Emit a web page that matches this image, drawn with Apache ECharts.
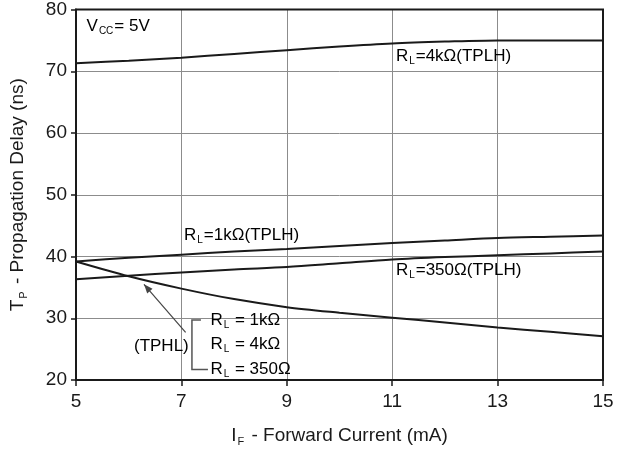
<!DOCTYPE html>
<html>
<head>
<meta charset="utf-8">
<script src="https://cdn.jsdelivr.net/npm/echarts@6/dist/echarts.min.js"></script>
<style>
  html, body { margin: 0; padding: 0; background: #fff; }
  #chart { width: 622px; height: 452px; }
</style>
</head>
<body>
<div id="chart"></div>
<script>
const forwardCurrent = [5, 6, 7, 8, 9, 10, 11, 12, 13, 14, 15]
const rl4kTplh = [71.3, 71.7, 72.2, 72.8, 73.4, 74.0, 74.5, 74.8, 75.0, 75.0, 75.0]
const rl1kTplh = [39.2, 39.8, 40.3, 40.8, 41.2, 41.7, 42.2, 42.6, 43.0, 43.2, 43.4]
const rl350Tplh = [36.3, 36.9, 37.4, 37.9, 38.3, 38.9, 39.5, 39.9, 40.2, 40.5, 40.8]
const tphlAll = [39.2, 36.8, 34.8, 33.1, 31.8, 30.9, 30.1, 29.3, 28.5, 27.8, 27.1]

const FONT = 'Liberation Sans, Arial, sans-serif'
const INK = '#1a1a1a'
const GRID_LINE = '#8c8c8c'

const chart = echarts.init(document.getElementById('chart'))

const pairs = (ys) => forwardCurrent.map((x, i) => [x, ys[i]])

const curve = (name, ys) => ({
  name,
  type: 'line',
  data: pairs(ys),
  smooth: 0.3,
  symbol: 'none',
  lineStyle: { color: INK, width: 2 },
  z: 5
})

const option = {
  animation: false,
  backgroundColor: '#fff',
  grid: { left: 75, right: 19, top: 9, bottom: 71 },
  xAxis: {
    type: 'value',
    min: 5,
    max: 15,
    interval: 2,
    name: '{t|I}{s|F}{t| - Forward Current (mA)}',
    nameLocation: 'middle',
    nameGap: 44,
    nameTextStyle: {
      rich: {
        t: { fontFamily: FONT, fontSize: 19, color: INK },
        s: { fontFamily: FONT, fontSize: 11, color: INK, verticalAlign: 'bottom', padding: [12, 2, 0, 1] }
      }
    },
    axisLine: { onZero: false, lineStyle: { color: INK, width: 2 } },
    axisTick: { show: true, length: 6, lineStyle: { color: INK, width: 1.5 } },
    axisLabel: { color: INK, fontFamily: FONT, fontSize: 19, margin: 12 },
    splitLine: { show: true, lineStyle: { color: GRID_LINE, width: 1 } }
  },
  yAxis: {
    type: 'value',
    min: 20,
    max: 80,
    interval: 10,
    name: '{t|T}{s|P}{t| - Propagation Delay (ns)}',
    nameLocation: 'middle',
    nameGap: 47,
    nameTextStyle: {
      rich: {
        t: { fontFamily: FONT, fontSize: 19, color: INK },
        s: { fontFamily: FONT, fontSize: 11, color: INK, verticalAlign: 'bottom', padding: [12, 2, 0, 1] }
      }
    },
    axisLine: { show: true, lineStyle: { color: INK, width: 2 } },
    axisTick: { show: true, length: 5, lineStyle: { color: INK, width: 1.5 } },
    axisLabel: { color: INK, fontFamily: FONT, fontSize: 19, margin: 9 },
    splitLine: { show: true, lineStyle: { color: GRID_LINE, width: 1 } }
  },
  series: [
    curve('RL=4k TPLH', rl4kTplh),
    curve('RL=1k TPLH', rl1kTplh),
    curve('RL=350 TPLH', rl350Tplh),
    curve('TPHL', tphlAll)
  ]
}

chart.setOption(option)

// frame on top and right, like the printed plot box
const box = chart.getModel().getComponent('grid').coordinateSystem.getRect()
const px = (x, y) => chart.convertToPixel({ gridIndex: 0 }, [x, y])

const subRich = {
  t: { fontFamily: FONT, fontSize: 17, color: INK },
  s: { fontFamily: FONT, fontSize: 10, color: INK, verticalAlign: 'bottom', padding: [10, 1, 0, 1] }
}

const label = (x, y, text) => {
  const p = px(x, y)
  return {
    type: 'text',
    x: p[0],
    y: p[1],
    z: 10,
    style: { text, rich: subRich, verticalAlign: 'middle', align: 'left' }
  }
}

const tip = px(6.29, 35.5)
const tail = px(7.08, 27.7)
const bTop = px(7.2, 29.7)
const bBot = px(7.2, 21.7)

chart.setOption({
  graphic: [
    {
      type: 'rect',
      shape: { x: box.x, y: box.y, width: box.width, height: box.height },
      style: { fill: 'none', stroke: INK, lineWidth: 2 },
      z: 8
    },
    label(5.2, 77.3, '{t|V}{s|CC}{t|= 5V}'),
    label(11.07, 72.4, '{t|R}{s|L}{t|=4kΩ(TPLH)}'),
    label(7.05, 43.4, '{t|R}{s|L}{t|=1kΩ(TPLH)}'),
    label(11.07, 37.7, '{t|R}{s|L}{t|=350Ω(TPLH)}'),
    label(6.1, 25.5, '{t|(TPHL)}'),
    label(7.55, 29.6, '{t|R}{s|L}{t| = 1kΩ}'),
    label(7.55, 25.8, '{t|R}{s|L}{t| = 4kΩ}'),
    label(7.55, 21.8, '{t|R}{s|L}{t| = 350Ω}'),
    {
      type: 'line',
      z: 9,
      shape: { x1: tail[0], y1: tail[1], x2: tip[0], y2: tip[1] },
      style: { stroke: '#444', lineWidth: 1.2 }
    },
    {
      type: 'polygon',
      z: 9,
      x: tip[0],
      y: tip[1],
      rotation: -Math.atan2(tail[1] - tip[1], tail[0] - tip[0]),
      shape: { points: [[0, 0], [9, -3.5], [9, 3.5]] },
      style: { fill: '#444' }
    },
    {
      type: 'polyline',
      z: 9,
      shape: {
        points: [
          [bTop[0] + 9, bTop[1]], [bTop[0], bTop[1]],
          [bBot[0], bBot[1]], [bBot[0] + 16, bBot[1]]
        ]
      },
      style: { stroke: '#555', lineWidth: 1.5, fill: 'none' }
    }
  ]
})
</script>
</body>
</html>
